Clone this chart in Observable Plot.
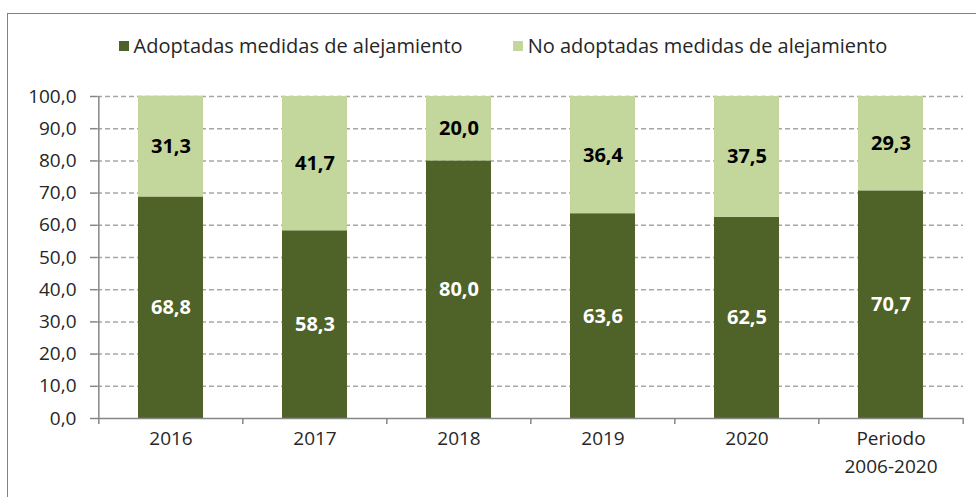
<!DOCTYPE html>
<html>
<head>
<meta charset="utf-8">
<script src="https://cdn.jsdelivr.net/npm/d3@7"></script>
<script src="https://cdn.jsdelivr.net/npm/@observablehq/plot@0.6"></script>
<style>
  html, body { margin: 0; padding: 0; background: #fff; }
  #wrap { position: relative; width: 976px; height: 497px; overflow: hidden; font-family: "Open Sans", sans-serif; }
  #frame { position: absolute; left: 7px; top: 13px; width: 1000px; height: 520px; border: 1.5px solid #77933C; box-sizing: border-box; }
  #legend { position: absolute; top: 32px; left: 15px; width: 976px; display: flex; justify-content: center; gap: 50px; font-size: 20px; color: #262626; }
  #legend .item { display: flex; align-items: center; gap: 5px; }
  #legend .sw { width: 10px; height: 10px; display: inline-block; }
  #chart { position: absolute; left: 0; top: 0; }
</style>
</head>
<body>
<div id="wrap">
  <div id="frame"></div>
  <div id="legend"></div>
  <div id="chart"></div>
</div>
<script>
const categories = ["2016", "2017", "2018", "2019", "2020", "Periodo\n2006-2020"];
const adoptadas = [68.8, 58.3, 80.0, 63.6, 62.5, 70.7];
const noAdoptadas = [31.3, 41.7, 20.0, 36.4, 37.5, 29.3];
const seriesNames = ["Adoptadas medidas de alejamiento", "No adoptadas medidas de alejamiento"];
const seriesColors = ["#4F6228", "#C3D69B"];
const labelColors = ["#ffffff", "#000000"];
const yTicks = [0, 10, 20, 30, 40, 50, 60, 70, 80, 90, 100];

const data = [];
categories.forEach((c, i) => {
  data.push({cat: c, series: seriesNames[0], value: adoptadas[i]});
  data.push({cat: c, series: seriesNames[1], value: noAdoptadas[i]});
});

const fmt = v => d3.format(".1f")(v).replace(".", ",");

// legend
const legend = document.getElementById("legend");
seriesNames.forEach((s, i) => {
  const it = document.createElement("div");
  it.className = "item";
  const sw = document.createElement("span");
  sw.className = "sw";
  sw.style.background = seriesColors[i];
  const t = document.createElement("span");
  t.textContent = s;
  it.appendChild(sw); it.appendChild(t);
  legend.appendChild(it);
});

const W = 976, H = 497;
const mL = 97, mR = 13, mT = 96, mB = 79;
const step = (W - mL - mR) / categories.length;
const first = categories[0];
const last = categories[categories.length - 1];

const plot = Plot.plot({
  width: W,
  height: H,
  marginLeft: mL,
  marginRight: mR,
  marginTop: mT,
  marginBottom: mB,
  style: {fontFamily: "'Open Sans', sans-serif", fontSize: "19px", color: "#262626", background: "transparent", overflow: "visible"},
  x: {domain: categories, paddingInner: 0.55, paddingOuter: 0.275, axis: null, label: null},
  y: {domain: [0, 100], axis: null, label: null},
  color: {domain: seriesNames, range: seriesColors},
  marks: [
    Plot.gridY(yTicks.filter(d => d > 0), {stroke: "#A6A6A6", strokeOpacity: 1, strokeWidth: 1.5, strokeDasharray: "5,3"}),
    Plot.barY(data, Plot.stackY({x: "cat", y: "value", fill: "series"})),
    Plot.text(data, Plot.stackY({x: "cat", y: "value", z: "series", text: d => fmt(d.value),
      fill: d => labelColors[seriesNames.indexOf(d.series)], fontWeight: "bold", fontSize: 20})),
    // y axis line
    Plot.ruleX([first], {x: d => d, y1: 0, y2: 100, dx: -step / 2, stroke: "#868686", strokeWidth: 1.5}),
    Plot.axisY(yTicks, {tickFormat: fmt, tickSize: 7, tickPadding: 14, stroke: "#868686", strokeWidth: 1.5, fontSize: 19, fill: "#262626", label: null}),
    // x axis
    Plot.ruleY([0], {stroke: "#868686", strokeWidth: 1.5}),
    Plot.ruleX(categories, {x: d => d, y1: 0, y2: 0, dx: -step / 2, insetBottom: -6, stroke: "#868686", strokeWidth: 1.5}),
    Plot.ruleX([last], {x: d => d, y1: 0, y2: 0, dx: step / 2, insetBottom: -6, stroke: "#868686", strokeWidth: 1.5}),
    Plot.axisX({tickSize: 0, tickPadding: 7, fontSize: 19, fill: "#262626", lineHeight: 1.45, label: null})
  ]
});
document.getElementById("chart").appendChild(plot);
</script>
</body>
</html>
